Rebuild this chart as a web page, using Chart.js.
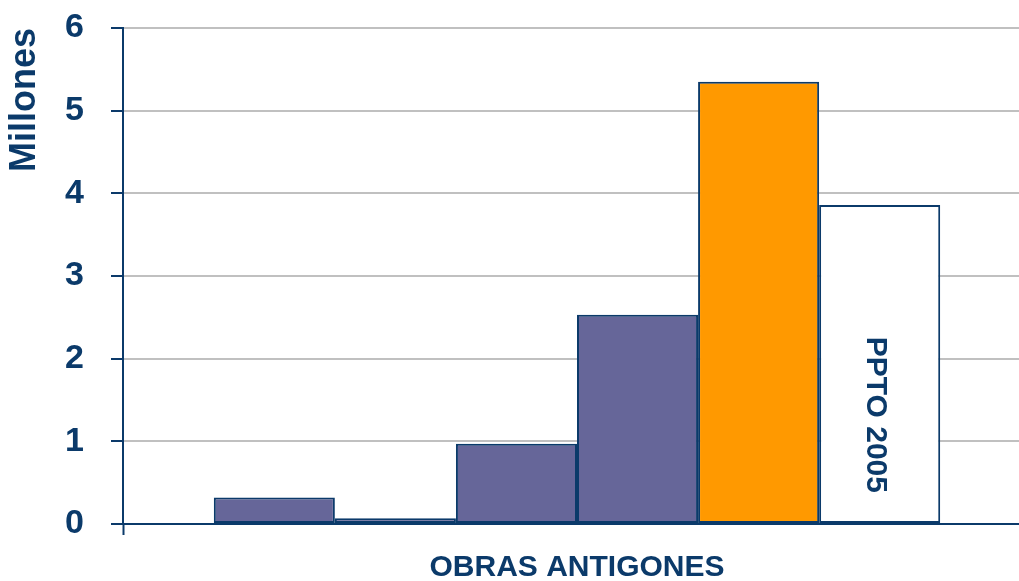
<!DOCTYPE html>
<html>
<head>
<meta charset="utf-8">
<script src="https://cdn.jsdelivr.net/npm/chart.js@4"></script>
<style>
  html, body { margin: 0; padding: 0; background: #fff; overflow: hidden; }
  #wrap { width: 1019px; height: 581px; overflow: hidden; }
</style>
</head>
<body>
<div id="wrap"><canvas id="chart" width="1032" height="581"></canvas></div>
<script>
// datos del gráfico
const categories = ['OBRAS ANTIGONES'];
const seriesNames = ['Serie 1', 'Serie 2', 'Serie 3', 'Serie 4', 'Serie 5', 'PPTO 2005'];
const seriesValues = [0.32, 0.07, 0.97, 2.53, 5.35, 3.86];
const yTicks = [0, 1, 2, 3, 4, 5, 6];

const NAVY = '#0b3a6a';
const FONT = "'Liberation Sans', Arial, sans-serif";
const fills = ['#666699', '#666699', '#666699', '#666699', '#ff9900', '#ffffff'];

// texto vertical dentro de la última barra
const barLabel = {
  id: 'barLabel',
  afterDatasetsDraw(chart) {
    const last = chart.data.datasets.length - 1;
    const bar = chart.getDatasetMeta(last).data[0];
    const y = chart.scales.y.getPixelForValue(1.32);
    const ctx = chart.ctx;
    ctx.save();
    ctx.translate(bar.x - 4, y);
    ctx.rotate(Math.PI / 2);
    ctx.font = 'bold 30px ' + FONT;
    ctx.fillStyle = NAVY;
    ctx.textAlign = 'center';
    ctx.textBaseline = 'middle';
    ctx.fillText(chart.data.datasets[last].label, 0, 0);
    ctx.restore();
  }
};

new Chart(document.getElementById('chart').getContext('2d'), {
  type: 'bar',
  data: {
    labels: categories,
    datasets: seriesNames.map((name, i) => ({
      label: name,
      data: [seriesValues[i]],
      backgroundColor: fills[i],
      borderColor: NAVY,
      borderWidth: 2,
      borderSkipped: false,
      barPercentage: 1,
      categoryPercentage: 0.8
    }))
  },
  options: {
    responsive: false,
    animation: false,
    layout: { padding: { top: 28, right: 1, left: 0, bottom: 0 } },
    plugins: {
      legend: { display: false },
      tooltip: { enabled: false }
    },
    scales: {
      x: {
        afterFit(scale) { scale.height = 57; },
        grid: {
          offset: true,
          drawOnChartArea: false,
          drawTicks: true,
          tickLength: 11,
          tickColor: NAVY,
          tickWidth: 2
        },
        border: { color: NAVY, width: 2 },
        ticks: {
          color: NAVY,
          padding: 15,
          font: { family: FONT, size: 30, weight: 'bold' }
        }
      },
      y: {
        min: 0,
        max: 6,
        afterFit(scale) {
          scale.width = 123;
          scale.paddingTop = 0;
          scale.paddingBottom = 0;
        },
        afterBuildTicks(scale) { scale.ticks = yTicks.map(v => ({ value: v })); },
        grid: {
          color: ctx => (ctx.tick && ctx.tick.value === 0 ? NAVY : '#c0c0c0'),
          lineWidth: 2,
          tickLength: 12,
          tickColor: NAVY,
          tickWidth: 2
        },
        border: { color: NAVY, width: 2 },
        ticks: {
          color: NAVY,
          padding: 27,
          font: { family: FONT, size: 34, weight: 'bold' }
        },
        title: {
          display: true,
          text: 'Millones',
          align: 'end',
          color: NAVY,
          padding: { top: 3, bottom: 0 },
          font: { family: FONT, size: 36, weight: 'bold' }
        }
      }
    }
  },
  plugins: [barLabel]
});
</script>
</body>
</html>
